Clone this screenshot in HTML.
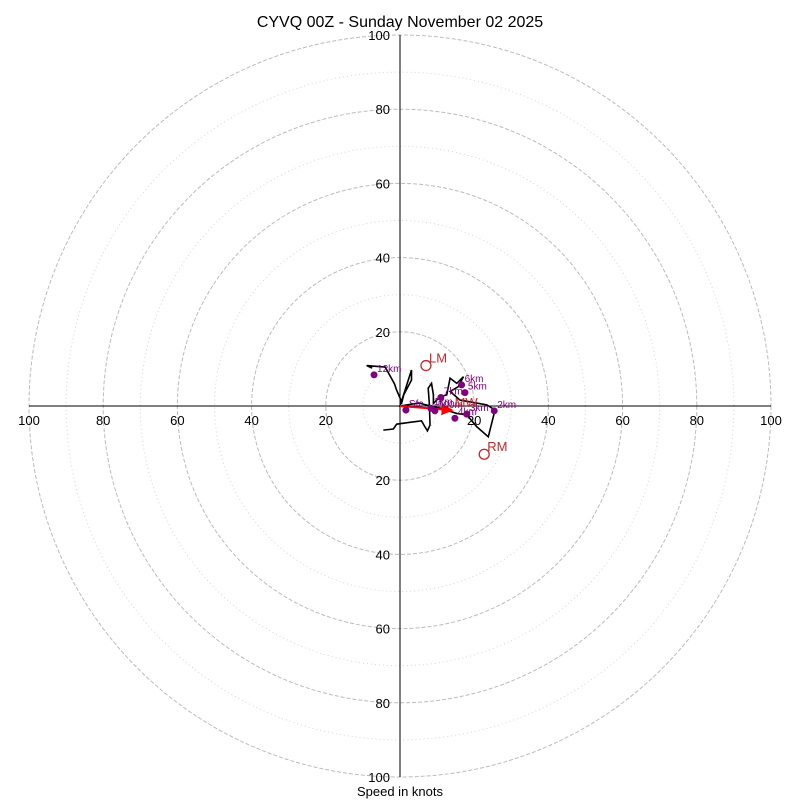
<!DOCTYPE html>
<html><head><meta charset="utf-8"><style>
body{margin:0;background:#fff;}
svg{display:block;font-family:"Liberation Sans",sans-serif;}
</style></head><body>
<svg id="c" width="800" height="800"></svg>
<script>
const ringSpeeds=[10,20,30,40,50,60,70,80,90,100];
const tickLabels=[20,40,60,80,100];
const traceU=[-4.5,-1.8,-0.9,2.7,5.8,6.7,7.4,8.1,7.9,7.6,8.5,9.0,9.0,10.8,12.6,13.5,15.3,17.1,15.7,13.5,16.2,23.4,25.6,23.8,20.7,18.0,15.3,10.8,5.0,0,3.1,3.1,1.0,0.5,-1.0,-1.5,-4.0,-9.0,-7.5];
const traceV=[-6.5,-6.2,-4.9,-4.4,-4.0,-5.6,-6.7,-5.1,0.7,4.8,6.1,3.0,0.7,2.5,3.0,7.5,6.1,7.9,5.2,3.9,1.6,0.3,-1.1,-8.3,-5.6,-2.4,-2.0,-0.6,0.8,0,9.7,7.0,3.0,1.0,4.5,6.0,10.5,10.9,10.2];
const markerLabels=["Sfc","1km","500m","2km","3km","4km","5km","6km","7km","12km"];
const markerU=[1.6,8.3,9.4,25.4,18.0,14.8,17.5,16.6,11.0,-7.0];
const markerV=[-1.1,-0.6,-1.3,-1.3,-2.2,-3.3,3.6,5.7,2.3,8.4];
const motionLabels=["LM","MW","RM"];
const motionU=[7.0,13.9,22.7];
const motionV=[10.9,-1.1,-13.0];

const NS="http://www.w3.org/2000/svg";
const svg=document.getElementById('c');
const cx=400,cy=406,R=371,maxS=100;
const X=u=>cx+u/maxS*R, Y=v=>cy-v/maxS*R;
function mk(t,a,p){const e=document.createElementNS(NS,t);for(const k in a)e.setAttribute(k,a[k]);(p||svg).appendChild(e);return e;}

ringSpeeds.forEach(s=>{
  const e=mk('circle',{cx:cx,cy:cy,r:s/maxS*R,fill:'none',stroke:s%20===0?'#bbb':'#d4d4d4','stroke-width':s%20===0?1:1,'stroke-dasharray':s%20===0?'4,2':'1,3'});
  
  
});
let ax=mk('line',{x1:X(-100),y1:cy,x2:X(100),y2:cy,stroke:'#000','stroke-width':1});


ax=mk('line',{x1:cx,y1:Y(100),x2:cx,y2:Y(-100),stroke:'#000','stroke-width':1});



tickLabels.forEach(s=>{
  [[X(s),cy+19],[X(-s),cy+19]].forEach(p=>{
    const t=mk('text',{x:p[0],y:p[1],'text-anchor':'middle','font-size':13});t.textContent=s;
    
    
  });
  [Y(s),Y(-s)].forEach(y=>{
    const t=mk('text',{x:cx-10,y:y+5,'text-anchor':'end','font-size':13});t.textContent=s;
    
    
  });
});

let pts=traceU.map((u,i)=>X(u)+','+Y(traceV[i])).join(' ');
const tr=mk('polyline',{points:pts,fill:'none',stroke:'#000','stroke-width':1.6});



const defs=mk('defs',{});
const m=mk('marker',{id:'ah',markerWidth:6,markerHeight:6,refX:5,refY:3,orient:'auto'},defs);
mk('path',{d:'M0,0 L6,3 L0,6 z',fill:'red'},m);
const arr=mk('line',{x1:cx,y1:cy,x2:X(motionU[1]),y2:Y(motionV[1]),stroke:'red','stroke-width':2,'marker-end':'url(#ah)'});



markerU.forEach((u,i)=>{
  const c=mk('circle',{cx:X(u),cy:Y(markerV[i]),r:3.5,fill:'purple'});
  
  
  const t=mk('text',{x:X(u)+3,y:Y(markerV[i])-3,'font-size':10,fill:'purple'});t.textContent=markerLabels[i];
  
  
});
motionU.forEach((u,i)=>{
  if(i!==1){const c=mk('circle',{cx:X(u),cy:Y(motionV[i]),r:5,fill:'none',stroke:'#c0282d','stroke-width':1.3});
  
  }
  const t=mk('text',{x:X(u)+3,y:Y(motionV[i])-3,'font-size':13,fill:'#c0282d'});t.textContent=motionLabels[i];
  
  
});

let t=mk('text',{x:400,y:27,'text-anchor':'middle','font-size':16});t.textContent='CYVQ 00Z - Sunday November 02 2025';


t=mk('text',{x:400,y:796,'text-anchor':'middle','font-size':13});t.textContent='Speed in knots';


</script>
</body></html>
